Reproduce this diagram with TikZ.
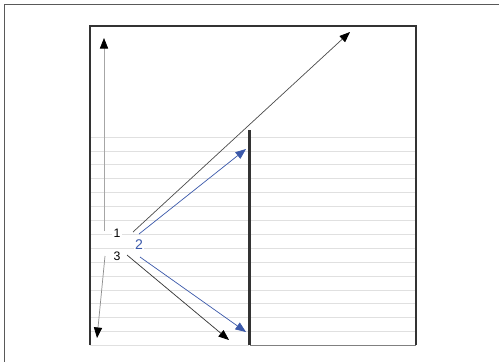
\documentclass[tikz,border=0pt]{standalone}
\usepackage{fontspec}
\setmainfont{Liberation Sans}
\usetikzlibrary{arrows.meta}
\definecolor{rayblue}{RGB}{59,89,170}
\begin{document}
\begin{tikzpicture}[x=0.03cm, y=-0.03cm,
    wall/.style={line width=2.2pt, black!80},
    rule/.style={line width=0.6pt, black!12},
    ray/.style={line width=0.6pt, -{Triangle[length=9pt, width=7pt, color=black]}},
    lbl/.style={fill=white, inner sep=1pt, font=\fontsize{10.5}{12}\selectfont}]
    \useasboundingbox (0,0) rectangle (499,362);
    \fill[white] (0,0) rectangle (499,362);
    \draw[line width=0.8pt, black!65] (499,4.5) -- (4.5,4.5) -- (4.5,362);
    
    % ruled lines
    \foreach \i in {0,...,14}
        \draw[rule] (90,137+13.9*\i) -- (416,137+13.9*\i);
    \draw[rule] (90,345) -- (249,345);
    \draw[line width=0.8pt, black!50] (250,345) -- (416,345);
    
    % walls
    \draw[wall] (90,345) -- (90,26) -- (416,26) -- (416,345);
    \draw[wall] (249.5,130) -- (249.5,345);
    
    % labels
    \node[lbl] (n1) at (117,233) {1};
    \node[lbl, text=rayblue, font=\fontsize{12}{14}\selectfont] (n2) at (139,245) {2};
    \node[lbl] (n3) at (117,256) {3};
    
    % ray ends
    \coordinate (upS) at (104,231);
    \coordinate (upE) at (104,38);
    \coordinate (dnS) at (105,256);
    \coordinate (dnE) at (97,338);
    \coordinate (r1S) at (133,232);
    \coordinate (r1E) at (350,32);
    \coordinate (b1S) at (139,234);
    \coordinate (b1E) at (246,149);
    \coordinate (b2S) at (140,257);
    \coordinate (b2E) at (246,332);
    \coordinate (r3S) at (127,255);
    \coordinate (r3E) at (229,340);
    
    % rays
    \draw[ray, black!35] (upS) -- (upE);
    \draw[ray, black!45] (dnS) -- (dnE);
    \draw[ray, black!70] (r1S) -- (r1E);
    \draw[ray, black!80] (r3S) -- (r3E);
    \draw[ray, rayblue, -{Triangle[length=9pt, width=7pt]}] (b1S) -- (b1E);
    \draw[ray, rayblue, -{Triangle[length=9pt, width=7pt]}] (b2S) -- (b2E);
\end{tikzpicture}
\end{document}
